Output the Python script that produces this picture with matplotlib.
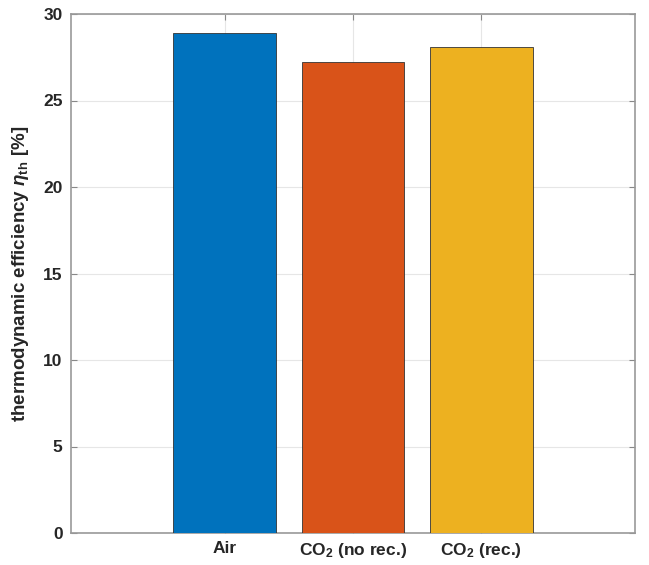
import numpy as np
import matplotlib.pyplot as plt

plt.rcParams['font.family'] = ['Liberation Sans', 'DejaVu Sans']
plt.rcParams['font.weight'] = 'bold'
plt.rcParams['mathtext.fontset'] = 'custom'
plt.rcParams['mathtext.rm'] = 'Liberation Sans:bold'
plt.rcParams['mathtext.bf'] = 'Liberation Sans:bold'
plt.rcParams['mathtext.it'] = 'Liberation Sans:italic'

cases = ["Air", "CO$_2$ (no rec.)", "CO$_2$ (rec.)"]
eta_th = [28.9, 27.2, 28.1]
colors = ["#0072BD", "#D95319", "#EDB120"]

fig = plt.figure(figsize=(6.49, 5.65), dpi=100)
ax = fig.add_axes([71/649, 1 - 533/565, 564/649, 519/565])

pos = np.arange(1, len(cases) + 1)
ax.bar(pos, eta_th, width=0.8, color=colors, edgecolor="#333333",
       linewidth=0.6, zorder=3)

ax.set_xlim(1 - 1.195, len(cases) + 1.195)
ax.set_ylim(0, 30)
ax.set_yticks(np.arange(0, 31, 5))
ax.set_xticks(pos)
ax.set_xticklabels(cases)
ax.grid(True, color="#e6e6e6", linewidth=0.8, zorder=0)
ax.tick_params(direction="in", length=4, width=0.8, color="#888888",
               labelsize=12.5, labelcolor="#262626", top=True, right=True,
               pad=6)
for s in ax.spines.values():
    s.set_color("#999999")
    s.set_linewidth(1.2)
ax.set_ylabel(r"thermodynamic efficiency $\eta_{\mathrm{th}}$ [%]",
              fontsize=13.5, fontweight="bold", color="#262626", labelpad=9)

fig.savefig("out.png", dpi=100)
